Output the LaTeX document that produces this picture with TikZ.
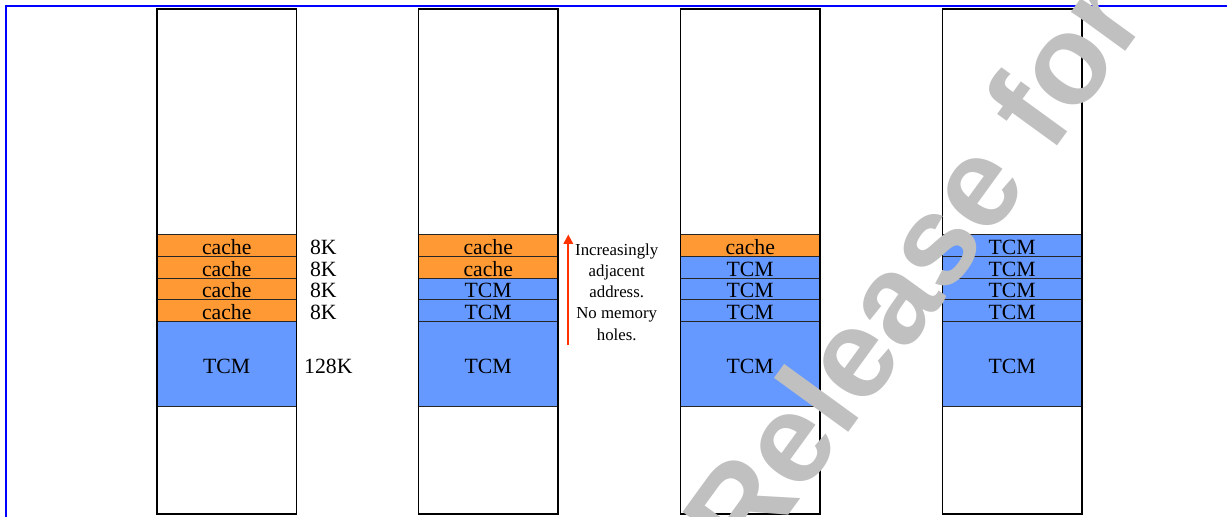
\documentclass[tikz,border=0pt]{standalone}
\usepackage{fontspec}
\setmainfont{Liberation Serif}
\setsansfont{Liberation Sans}
\usetikzlibrary{arrows.meta}
\definecolor{cacheor}{RGB}{255,153,51}
\definecolor{tcmblue}{RGB}{102,153,255}
\definecolor{arrowred}{RGB}{255,51,0}
\definecolor{wmgray}{RGB}{192,192,192}
\definecolor{frameblue}{RGB}{0,0,255}
\begin{document}
\begin{tikzpicture}[x=0.75pt,y=-0.75pt,
  cell/.style={draw=black!85,line width=0.7pt},
  colbox/.style={draw=black,line width=1.1pt},
  lbl/.style={inner sep=0pt,anchor=base,font=\fontsize{16.3}{19}\selectfont},
  note/.style={inner sep=0pt,anchor=north,align=center,font=\fontsize{12.6}{15.9}\selectfont},
  addrarrow/.style={draw=arrowred,line width=1.5pt,-{Triangle[length=7pt,width=7pt]}},
  wmark/.style={inner sep=0pt,anchor=base west,rotate=54,text=wmgray,font=\fontsize{95}{95}\selectfont\sffamily\bfseries},
  frameline/.style={draw=frameblue,line width=1.3pt}]
\useasboundingbox (0,0) rectangle (1227,517);
\begin{scope}
\clip (0,0) rectangle (1227,517);
% columns
\foreach \i/\xl/\k in {1/157/4,2/418.5/2,3/680.5/1,4/942.3/0}{
  \fill[white] (\xl,9) rectangle (\xl+139.5,514);
  \foreach \j/\yt/\yb in {1/234.7/256.7,2/256.7/278.3,3/278.3/299.7,4/299.7/321.3}{
    \ifnum\j>\k \def\rc{tcmblue}\def\rt{TCM}\else\def\rc{cacheor}\def\rt{cache}\fi
    \draw[cell,fill=\rc] (\xl,\yt) rectangle (\xl+139.5,\yb);
    \node[lbl] (c\i r\j) at (\xl+69.75,\yb-2.2) {\rt};
  }
  \draw[cell,fill=tcmblue] (\xl,321.3) rectangle (\xl+139.5,406.7);
  \node[lbl] (c\i r5) at (\xl+69.75,373) {TCM};
  \draw[colbox] (\xl,9) rectangle (\xl+139.5,514);
  \coordinate (col\i) at (\xl+69.75,261.5);
}
% size labels
\node[lbl] (s1) at (323.3,254.5) {8K};
\node[lbl] (s2) at (323.3,276.1) {8K};
\node[lbl] (s3) at (323.3,297.5) {8K};
\node[lbl] (s4) at (323.3,319.1) {8K};
\node[lbl] (s5) at (328.3,373) {128K};
% arrow and note
\coordinate (atail) at (568.3,345);
\coordinate (ahead) at (568.3,234.5);
\draw[addrarrow] (atail) -- (ahead);
\node[note] (note) at (616.7,243.3) {Increasingly\\adjacent\\address.\\No memory\\holes.};
% frame
\draw[frameline] (5.8,517) -- (5.8,5.8) -- (1227,5.8);
% watermark
\node[wmark] (wm) at (748,571) {Release for};
\end{scope}
\end{tikzpicture}
\end{document}
